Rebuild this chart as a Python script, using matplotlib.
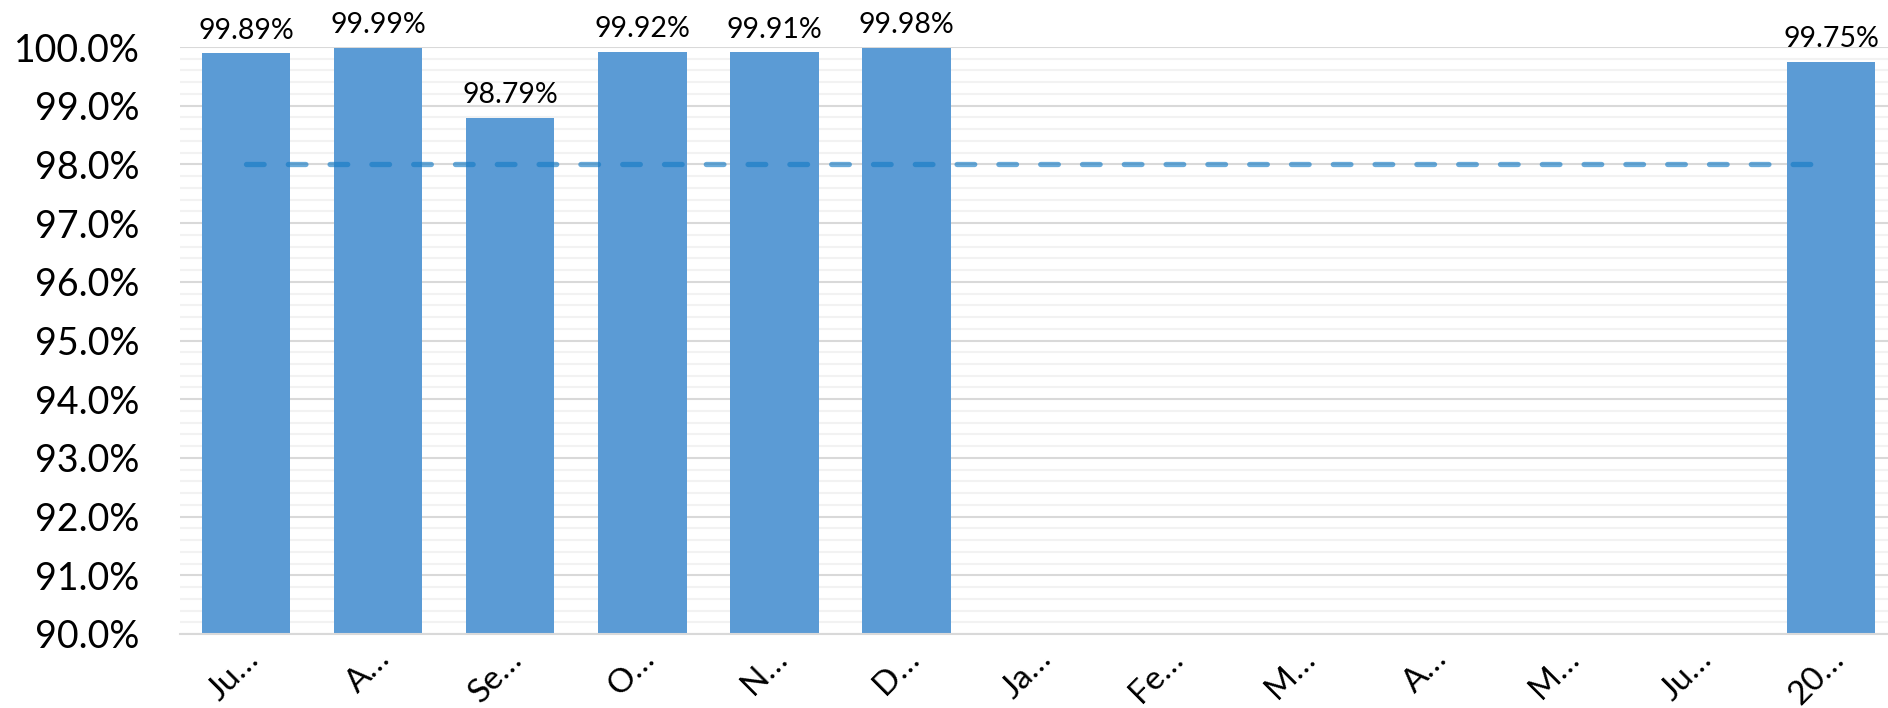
import numpy as np
import matplotlib.pyplot as plt
import matplotlib.transforms as mtransforms
from matplotlib.ticker import MultipleLocator, FuncFormatter

# categories (truncated as in the source chart) and values in percent
labels = ["Ju…", "A…", "Se…", "O…", "N…", "D…", "Ja…", "Fe…", "M…", "A…", "M…", "Ju…", "20…"]
values = [99.89, 99.99, 98.79, 99.92, 99.91, 99.98,
          np.nan, np.nan, np.nan, np.nan, np.nan, np.nan, 99.75]
target = [98.0] * len(labels)

plt.rcParams['font.family'] = ['Lato', 'DejaVu Sans']

fig = plt.figure(figsize=(18.88, 7.08), dpi=100)
ax = fig.add_axes([180 / 1888, 1 - 634 / 708, 1 - 180 / 1888, (634 - 47) / 708])

x = np.arange(len(labels))
base = 90.0
heights = [v - base for v in values]
bars = ax.bar(x, heights, bottom=base, width=0.67, color="#5B9BD5", zorder=2)

for xi, v in zip(x, values):
    if not np.isnan(v):
        ax.annotate(f"{v:.2f}%", (xi, v), xytext=(0, 7), textcoords="offset points",
                    ha="center", va="bottom", fontsize=20.5, color="#000000")

# target line
ax.plot(x, target, color="#147AC4", alpha=0.63, lw=3.8, solid_capstyle="round",
        dash_capstyle="round", dashes=(3.34, 4.58), zorder=3)

ax.set_ylim(90, 100)
ax.set_xlim(-0.5, 12.43)
ax.yaxis.set_major_locator(MultipleLocator(1))
ax.yaxis.set_minor_locator(MultipleLocator(0.2))
ax.yaxis.set_major_formatter(FuncFormatter(lambda v, p: f"{v:.1f}%"))
ax.grid(axis="y", which="major", color="#D9D9D9", lw=1.5, zorder=0)
ax.grid(axis="y", which="minor", color="#F2F2F2", lw=1.5, zorder=0)
ax.set_axisbelow(True)

for s in ["top", "right", "left"]:
    ax.spines[s].set_visible(False)
ax.spines["bottom"].set_color("#D9D9D9")
ax.spines["bottom"].set_linewidth(1.5)

ax.tick_params(axis="y", which="both", length=0, labelsize=27, pad=29)
ax.tick_params(axis="x", length=0, labelsize=24, pad=7)
ax.set_xticks(x)
ax.set_xticklabels(labels, rotation=45, ha="right", va="top", rotation_mode="anchor")
shift = mtransforms.ScaledTranslation(-3 / 100, 0, fig.dpi_scale_trans)
for t in ax.get_xticklabels():
    t.set_transform(t.get_transform() + shift)

fig.savefig("out.png", dpi=100)
